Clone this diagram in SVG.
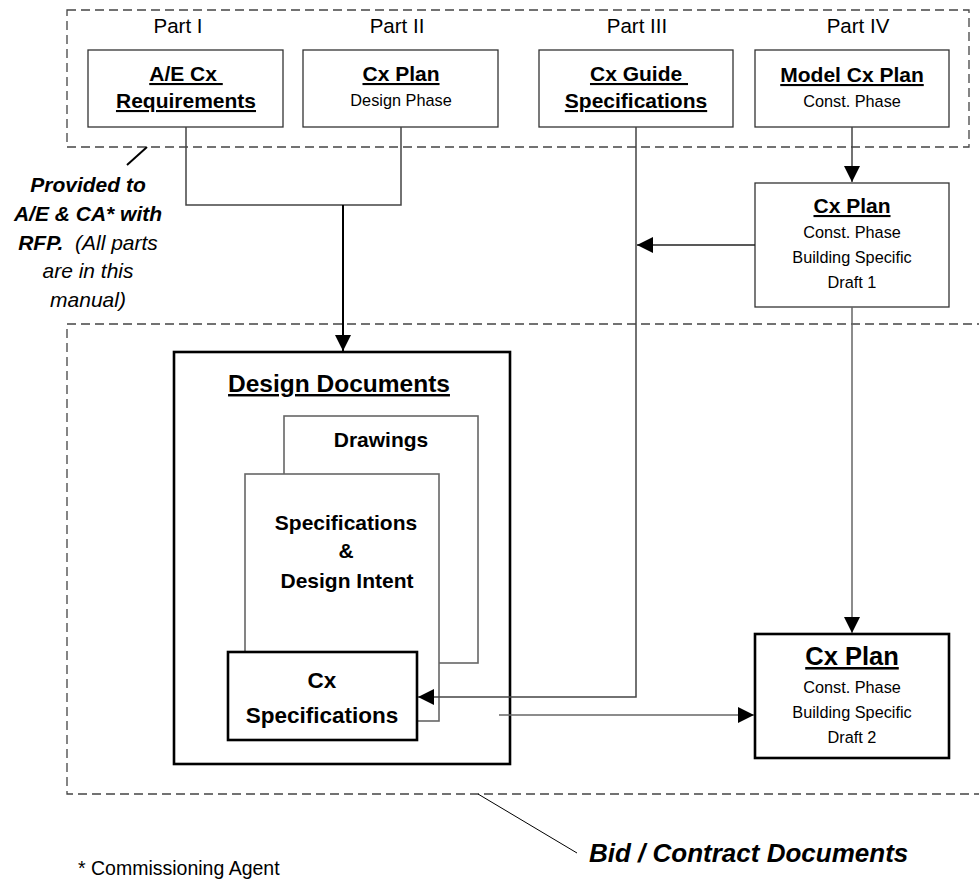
<svg xmlns="http://www.w3.org/2000/svg" width="979" height="879" viewBox="0 0 979 879">
<style>
text{font-family:"Liberation Sans",Arial,sans-serif;fill:#000}
.b{font-weight:bold}
.u{text-decoration:underline}
.m{text-anchor:middle}
.bi{font-weight:bold;font-style:italic}
.it{font-style:italic}
.box{fill:#fff;stroke:#333;stroke-width:1.3}
.thick{fill:#fff;stroke:#000;stroke-width:2.6}
.gray{fill:#fff;stroke:#666;stroke-width:1.6}
.dash{fill:none;stroke:#444;stroke-width:1.3;stroke-dasharray:9 5}
.con{fill:none;stroke:#444;stroke-width:1.5}
.t20{font-size:20.5px}
.t21{font-size:21px}
.t16{font-size:16.3px}
</style>
<defs>
<marker id="ah" markerUnits="userSpaceOnUse" markerWidth="17" markerHeight="17" refX="16" refY="8" orient="auto">
<path d="M0,0 L16,8 L0,16 Z" fill="#000"/>
</marker>
</defs>

<g id="group-parts">
<rect class="dash" x="67" y="10" width="902" height="137"/>
<text class="t20 m" x="178" y="33">Part I</text>
<text class="t20 m" x="397" y="33">Part II</text>
<text class="t20 m" x="637" y="33">Part III</text>
<text class="t20 m" x="858" y="33">Part IV</text>
</g>

<g id="group-bid">
<rect class="dash" x="67" y="324" width="930" height="470"/>
</g>

<g id="node-ae-cx-req">
<rect class="box" x="88" y="50" width="195" height="77"/>
<text class="t21 b u m" x="186" y="81" xml:space="preserve">A/E Cx </text>
<text class="t21 b u m" x="186" y="108">Requirements</text>
</g>

<g id="node-cx-plan-design">
<rect class="box" x="303" y="50" width="195" height="77"/>
<text class="t21 b u m" x="401" y="81">Cx Plan</text>
<text class="t16 m" x="401" y="106">Design Phase</text>
</g>

<g id="node-cx-guide-spec">
<rect class="box" x="539" y="50" width="194" height="77"/>
<text class="t21 b u m" x="639" y="81" xml:space="preserve">Cx Guide </text>
<text class="t21 b u m" x="636" y="108">Specifications</text>
</g>

<g id="node-model-cx-plan">
<rect class="box" x="755" y="50" width="194" height="77"/>
<text class="t21 b u m" x="852" y="82">Model Cx Plan</text>
<text class="t16 m" x="852" y="107">Const. Phase</text>
</g>

<g id="node-cx-plan-draft1">
<rect class="box" x="755" y="183" width="194" height="124"/>
<text class="t21 b u m" x="852" y="213">Cx Plan</text>
<text class="t16 m" x="852" y="238">Const. Phase</text>
<text class="t16 m" x="852" y="263">Building Specific</text>
<text class="t16 m" x="852" y="288">Draft 1</text>
</g>

<g id="note-provided">
<text class="t21 bi m" x="88" y="192">Provided to</text>
<text class="t21 bi m" x="88" y="221">A/E &amp; CA* with</text>
<text class="t21 m" x="88" y="250" xml:space="preserve"><tspan class="bi">RFP.</tspan><tspan class="it">  (All parts</tspan></text>
<text class="t21 it m" x="88" y="278">are in this</text>
<text class="t21 it m" x="88" y="307">manual)</text>
</g>

<g id="node-design-documents">
<rect class="thick" x="174" y="352" width="336" height="412"/>
<text class="b u m" style="font-size:24.5px" x="339" y="392">Design Documents</text>
</g>

<g id="node-drawings">
<rect class="gray" x="284" y="416" width="194" height="247"/>
<text class="t21 b m" x="381" y="447">Drawings</text>
</g>

<g id="node-spec-design-intent">
<rect class="gray" x="245" y="474" width="194" height="247"/>
<text class="t21 b m" x="346" y="530">Specifications</text>
<text class="t21 b m" x="346" y="558">&amp;</text>
<text class="t21 b m" x="347" y="588">Design Intent</text>
</g>

<g id="node-cx-specifications">
<rect class="thick" x="228" y="652" width="189" height="88"/>
<text class="b m" style="font-size:22.5px" x="322" y="688">Cx</text>
<text class="b m" style="font-size:22.5px" x="322" y="723">Specifications</text>
</g>

<g id="node-cx-plan-draft2">
<rect class="thick" x="755" y="634" width="194" height="124"/>
<text class="b u m" style="font-size:25.5px" x="852" y="665">Cx Plan</text>
<text class="t16 m" x="852" y="693">Const. Phase</text>
<text class="t16 m" x="852" y="718">Building Specific</text>
<text class="t16 m" x="852" y="743">Draft 2</text>
</g>

<g id="connectors">
<path class="con" d="M186,127 V205 H401 V127"/>
<path class="con" d="M343,205 V351" style="stroke:#000;stroke-width:2" marker-end="url(#ah)"/>
<path class="con" d="M636,127 V697 H418" marker-end="url(#ah)"/>
<path class="con" d="M852,127 V182" marker-end="url(#ah)"/>
<path class="con" d="M755,245 H637" style="stroke:#222" marker-end="url(#ah)"/>
<path class="con" d="M852,307 V633" style="stroke:#666" marker-end="url(#ah)"/>
<path class="con" d="M499,715 H754" style="stroke:#666" marker-end="url(#ah)"/>
<path class="con" d="M147,147 L127,165" style="stroke:#000;stroke-width:2"/>
<path class="con" d="M478,794 L577,853" style="stroke:#000;stroke-width:1"/>
</g>

<g id="label-bid">
<text class="bi" style="font-size:26px" x="589" y="862">Bid / Contract Documents</text>
</g>

<g id="footnote">
<text style="font-size:19.5px" x="78" y="875">* Commissioning Agent</text>
</g>
</svg>
